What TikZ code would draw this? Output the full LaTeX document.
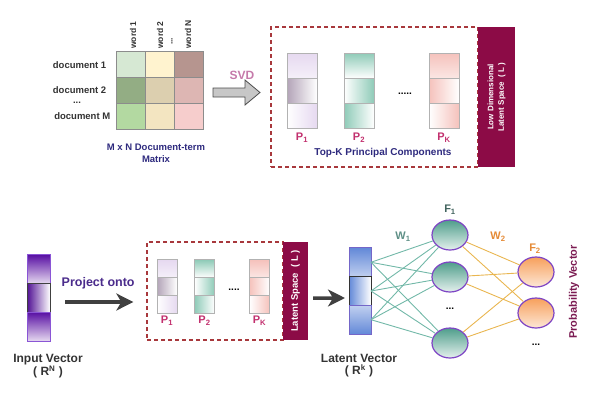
\documentclass[tikz,border=0pt]{standalone}
\usepackage{fontspec}
\setmainfont{Liberation Sans}
\usetikzlibrary{positioning,arrows.meta,shapes.geometric}

\definecolor{navy}{HTML}{2E2A7E}
\definecolor{wine}{HTML}{8C0B46}
\definecolor{redline}{HTML}{A8383C}
\definecolor{pmag}{HTML}{C2306E}
\definecolor{svdpink}{HTML}{C57AAA}
\definecolor{projc}{HTML}{4B2C8C}
\definecolor{darktxt}{HTML}{333333}
\definecolor{lav}{HTML}{E6D9F0}
\definecolor{plum}{HTML}{B3A4B8}
\definecolor{tl}{HTML}{8FCBB8}
\definecolor{pk}{HTML}{F5C2BC}
\definecolor{vio}{HTML}{5A12A4}
\definecolor{violine}{HTML}{8A55D5}
\definecolor{blu}{HTML}{6389D8}
\definecolor{bluline}{HTML}{7466C8}
\definecolor{nborder}{HTML}{7E45C4}
\definecolor{nteal}{HTML}{4F9E8B}
\definecolor{nor}{HTML}{F7A05C}
\definecolor{tealline}{HTML}{72B8A8}
\definecolor{orline}{HTML}{E9B650}
\definecolor{orng}{HTML}{E58A35}
\definecolor{tealtxt}{HTML}{5E8F86}
\definecolor{probc}{HTML}{7B1B52}
\definecolor{mat11}{HTML}{D6E8D3}
\definecolor{mat12}{HTML}{FFF3CF}
\definecolor{mat13}{HTML}{B6958F}
\definecolor{mat21}{HTML}{93AD84}
\definecolor{mat22}{HTML}{DCCFAF}
\definecolor{mat23}{HTML}{DDB6B3}
\definecolor{mat31}{HTML}{B3D9A1}
\definecolor{mat32}{HTML}{F3E5C1}
\definecolor{mat33}{HTML}{F6CDCC}

\tikzset{node distance=3cm, auto,
  txt/.style={font=\bfseries\fontsize{#1}{12}\selectfont, inner sep=1pt},
  txt/.default=10,
  mcell/.style={draw=black!45, line width=1pt, minimum width=28.7pt, minimum height=25.7pt, inner sep=0pt},
  pcell/.style={draw=black!30, line width=1pt, minimum width=30pt, minimum height=25.3pt, inner sep=0pt, outer sep=0pt},
  qcell/.style={pcell, minimum width=20pt, minimum height=17.7pt},
  dbox/.style={draw=redline, line width=1.3pt, dash pattern=on 4pt off 3pt, inner sep=0pt},
  wbox/.style={fill=wine, inner sep=0pt},
  vcell/.style={line width=1pt, minimum width=23pt, minimum height=28.7pt, inner sep=0pt, outer sep=0pt},
  neuron/.style={ellipse, draw=nborder, line width=1.2pt, minimum width=36pt, minimum height=30pt},
  bigarrow/.style={draw=black!75, line width=3.5pt, -{Stealth[length=17pt,width=17pt,inset=5pt]}},
  wline/.style={draw=tealline, line width=0.9pt},
  oline/.style={draw=orline, line width=0.9pt}
}

\begin{document}
\begin{tikzpicture}[x=1pt, y=-1pt]
  \useasboundingbox (0,0) rectangle (595,418);

  % document-term matrix
  \foreach \r/\y in {1/64.8,2/90.5,3/116.2}
    \foreach \c/\x in {1/131.3,2/160,3/188.7}
      \node[mcell, fill=mat\r\c] (m\r\c) at (\x,\y) {};

  \node (d1) [txt=9.5, text=darktxt, left=9pt of m11] {document 1};
  \node (d2) [txt=9.5, text=darktxt, left=9pt of m21] {document 2};
  \node (dd) [txt=9.5, text=darktxt] at (77,103) {...};
  \node (d3) [txt=9.5, text=darktxt, left=5pt of m31] {document M};

  \node (w1) [txt=8.5, text=darktxt, rotate=90, anchor=west] at (133,50) {word 1};
  \node (w2) [txt=8.5, text=darktxt, rotate=90, anchor=west] at (160,50) {word 2};
  \node (wd) [txt=8.5, text=darktxt, rotate=90, anchor=west] at (172,46) {...};
  \node (w3) [txt=8.5, text=darktxt, rotate=90, anchor=west] at (188,50) {word N};

  \node (mxn) [txt=9.5, text=navy, align=center] at (156,153) {M x N Document-term\\Matrix};

  % svd block arrow
  \draw[fill=black!22, draw=black!70, line width=0.8pt]
    (213,88) -- (245,88) -- (245,80) -- (260,92.5) -- (245,105) -- (245,97) -- (213,97) -- cycle;
  \node (svd) [txt=12, text=svdpink] at (242,75) {SVD};

  % principal components
  \node (pcbox) [dbox, minimum width=207pt, minimum height=140pt] at (374.5,97) {};
  \node (lowdim) [wbox, minimum width=37pt, minimum height=140pt] at (496.5,97) {};
  \node [rotate=90, align=center, text=white, font=\bfseries\fontsize{8}{10.5}\selectfont] at (lowdim) {Low Dimensional\\Latent Space\ \ ( L )};

  \node (p1a) [pcell, top color=lav, bottom color=lav!40] at (302,65.7) {};
  \node (p1b) [pcell, left color=plum, right color=white, below=0pt of p1a] {};
  \node (p1c) [pcell, left color=white, right color=lav, below=0pt of p1b] {};

  \node (p2a) [pcell, top color=tl, bottom color=white] at (359,65.7) {};
  \node (p2b) [pcell, left color=white, right color=tl, below=0pt of p2a] {};
  \node (p2c) [pcell, left color=tl, right color=white, below=0pt of p2b] {};

  \node (pka) [pcell, top color=pk, bottom color=pk!40] at (444,65.7) {};
  \node (pkb) [pcell, left color=pk, right color=white, below=0pt of pka] {};
  \node (pkc) [pcell, left color=white, right color=pk, below=0pt of pkb] {};

  \node (pdots) [txt=10] at (405,94) {.....};

  \node (l1) [txt=11, text=pmag, below=3pt of p1c] {P\textsubscript{1}};
  \node (l2) [txt=11, text=pmag, below=3pt of p2c] {P\textsubscript{2}};
  \node (lk) [txt=11, text=pmag, below=3pt of pkc] {P\textsubscript{K}};
  \node (topk) [txt=10, text=navy] at (383,153) {Top-K Principal Components};

  % input vector
  \node (inA) [vcell, draw=violine, top color=vio, bottom color=lav] at (38.5,269.3) {};
  \node (inB) [vcell, draw=black!75, left color=vio!90!black, right color=white, below=0pt of inA] {};
  \node (inC) [vcell, draw=violine, top color=vio, bottom color=lav, below=0pt of inB] {};
  \node (inl) [txt=12, text=darktxt, align=center] at (48,366) {Input Vector\\( R\textsuperscript{N} )};

  % projection
  \node (pbox) [dbox, minimum width=136pt, minimum height=98pt] at (215,291) {};
  \node (lat) [wbox, minimum width=25pt, minimum height=98pt] at (295.5,291) {};
  \node [rotate=90, text=white, txt=9.5] at (lat) {Latent Space\ \ ( L )};

  \node (q1a) [qcell, top color=lav, bottom color=lav!40] at (167,268.8) {};
  \node (q1b) [qcell, left color=plum, right color=white, below=0pt of q1a] {};
  \node (q1c) [qcell, left color=white, right color=lav, below=0pt of q1b] {};

  \node (q2a) [qcell, top color=tl, bottom color=white] at (204.5,268.8) {};
  \node (q2b) [qcell, left color=white, right color=tl, below=0pt of q2a] {};
  \node (q2c) [qcell, left color=tl, right color=white, below=0pt of q2b] {};

  \node (qka) [qcell, top color=pk, bottom color=pk!40] at (259.5,268.8) {};
  \node (qkb) [qcell, left color=pk, right color=white, below=0pt of qka] {};
  \node (qkc) [qcell, left color=white, right color=pk, below=0pt of qkb] {};

  \node (qdots) [txt=10] at (234,290) {....};

  \node (r1) [txt=11, text=pmag, below=2pt of q1c] {P\textsubscript{1}};
  \node (r2) [txt=11, text=pmag, below=2pt of q2c] {P\textsubscript{2}};
  \node (rk) [txt=11, text=pmag, below=2pt of qkc] {P\textsubscript{K}};

  \draw[bigarrow, shorten <=15pt, shorten >=13pt] ([yshift=-4pt]inB.east) -- ([yshift=-4pt]inB.east -| pbox.west)
    node[midway, above=10pt, txt=12.5, text=projc] {Project onto};

  % latent vector
  \node (lA) [vcell, minimum width=22pt, draw=bluline, top color=blu, bottom color=blu!40] at (360,262.3) {};
  \node (lB) [vcell, minimum width=22pt, draw=black!80, left color=blu, right color=white, below=0pt of lA] {};
  \node (lC) [vcell, minimum width=22pt, draw=bluline, top color=blu!40, bottom color=blu, below=0pt of lB] {};
  \node (ltl) [txt=12, text=darktxt, align=center] at (359,366) {Latent Vector\\( R\textsuperscript{k} )};

  \draw[bigarrow, shorten <=5pt, shorten >=4pt] ([yshift=-7pt]lat.east) -- ([yshift=-7pt]lB.west);

  % network
  \node (h1) [neuron, top color=nteal, bottom color=nteal!15] at (450,235) {};
  \node (h2) [neuron, top color=nteal, bottom color=nteal!15] at (450,277) {};
  \node (h3) [neuron, top color=nteal, bottom color=nteal!15] at (450,343) {};
  \node (hd) [txt=10] at (450,309) {...};

  \node (o1) [neuron, top color=nor, bottom color=nor!25] at (536,272) {};
  \node (o2) [neuron, top color=nor, bottom color=nor!25] at (536,313) {};
  \node (od) [txt=10] at (536,345) {...};

  \foreach \a in {lA,lB,lC}
    \foreach \b in {h1,h2,h3}
      \draw[wline] (\a.east) -- (\b);
  \foreach \a in {h1,h2,h3}
    \foreach \b in {o1,o2}
      \draw[oline] (\a) -- (\b);

  \node (f1) [txt=11, text=tealtxt!70!black] at (450,210) {F\textsubscript{1}};
  \node (wt1) [txt=11, text=tealtxt] at (403,237) {W\textsubscript{1}};
  \node (wt2) [txt=11, text=orng] at (498,237) {W\textsubscript{2}};
  \node (f2) [txt=11, text=orng] at (535,249) {F\textsubscript{2}};
  \node (prob) [txt=11, text=probc, rotate=90] at (574,292) {Probability Vector};
\end{tikzpicture}
\end{document}
